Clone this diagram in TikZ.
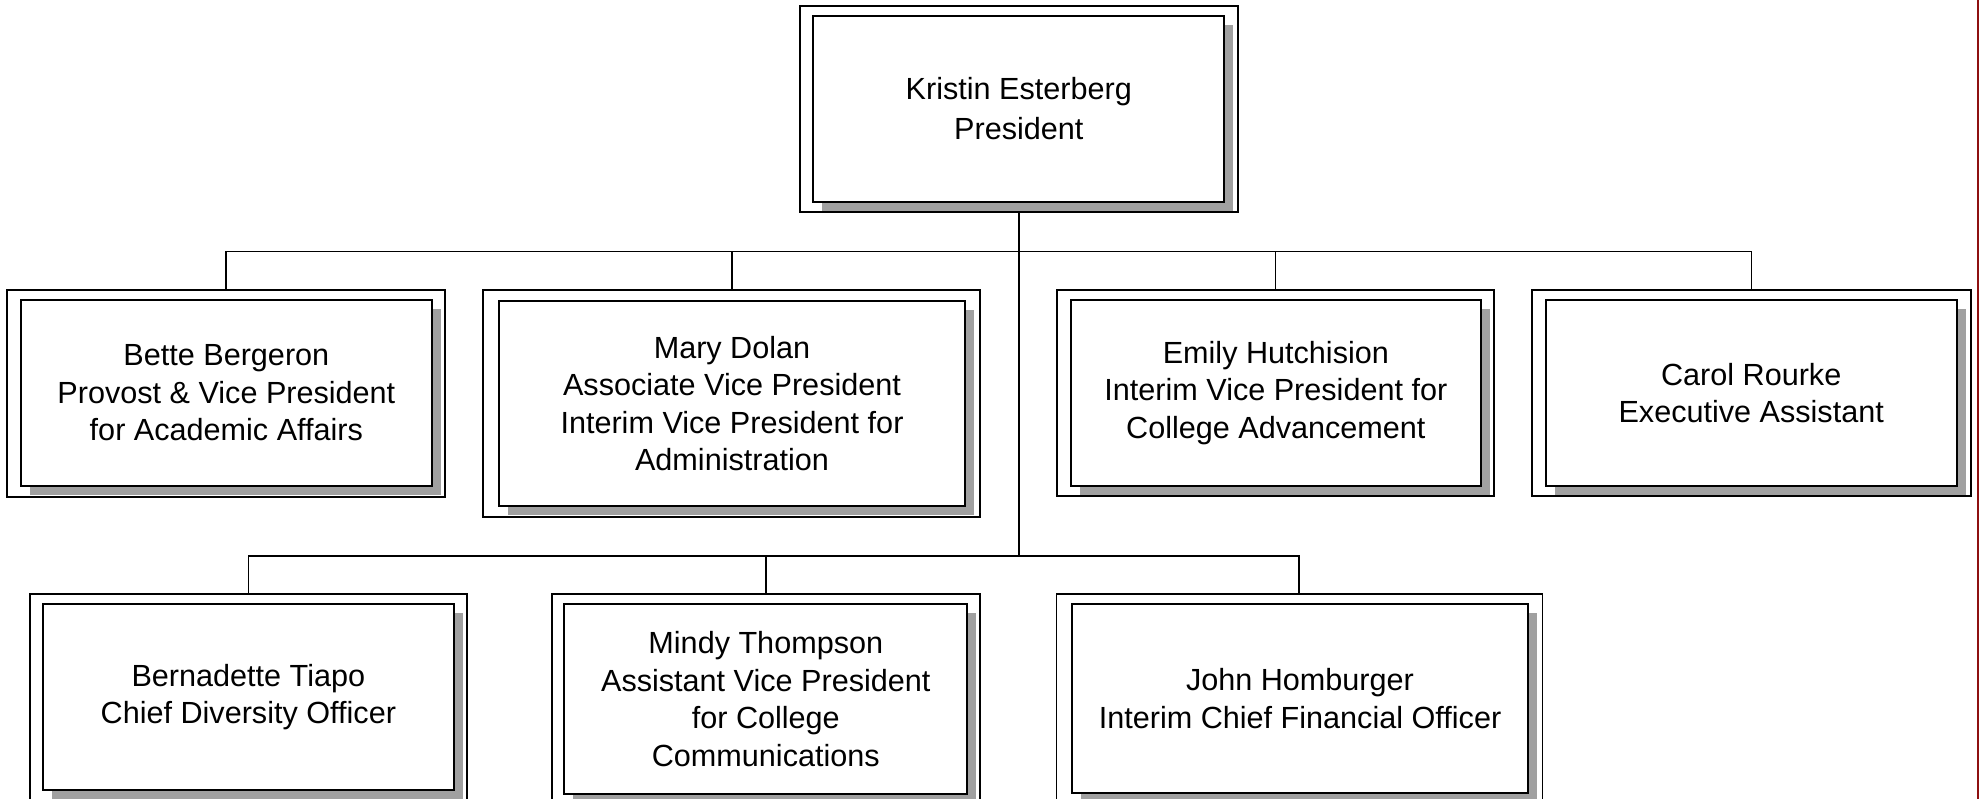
\documentclass[tikz,border=0pt]{standalone}
\usepackage{fontspec}
\setmainfont{Liberation Sans}
\usetikzlibrary{shadows}
\definecolor{shadowgray}{HTML}{A0A0A0}
\definecolor{edgered}{HTML}{8E1010}
\tikzset{
  outerbox/.style={draw=black, fill=white, line width=1.8pt, inner sep=0pt, outer sep=0pt, rectangle},
  innerbox/.style={draw=black, fill=white, line width=2pt, inner sep=0pt, outer sep=0pt, rectangle,
    align=center, font=\fontsize{30.6}{37.5}\selectfont,
    drop shadow={shadow xshift=9pt, shadow yshift=-9pt, opacity=1, fill=shadowgray, draw=none}},
  conn/.style={draw=black, line width=1.9pt},
  trunk/.style={draw=black, line width=2.6pt}
}
\begin{document}
\begin{tikzpicture}[x=1pt, y=-1pt]
\useasboundingbox (0,0) rectangle (1979,799);
\clip (0,0) rectangle (1979,799);
\fill[white] (0,0) rectangle (1979,799);

% top
\node[outerbox, minimum width=437.7pt, minimum height=206pt] (pres) at (1018.85,109) {};
\node[innerbox, minimum width=411pt, minimum height=186pt, font=\fontsize{30.6}{40}\selectfont] (presi) at (1018.8,109) {Kristin Esterberg\\President};

% row 1
\node[outerbox, minimum width=438pt, minimum height=206.7pt] (bette) at (226,393.35) {};
\node[innerbox, minimum width=411.3pt, minimum height=186pt] (bettei) at (226.35,393) {Bette Bergeron\\Provost \& Vice President\\for Academic Affairs};

\node[outerbox, minimum width=496.7pt, minimum height=226.7pt] (mary) at (731.65,403.35) {};
\node[innerbox, minimum width=466pt, minimum height=204.7pt] (maryi) at (732,403.35) {Mary Dolan\\Associate Vice President\\Interim Vice President for\\Administration};

\node[outerbox, minimum width=437.6pt, minimum height=206pt] (emily) at (1275.5,393) {};
\node[innerbox, minimum width=410.3pt, minimum height=186pt] (emilyi) at (1275.85,393) {Emily Hutchision\\Interim Vice President for\\College Advancement};

\node[outerbox, minimum width=439pt, minimum height=206pt] (carol) at (1751.5,393) {};
\node[innerbox, minimum width=411pt, minimum height=186pt] (caroli) at (1751.2,393) {Carol Rourke\\Executive Assistant};

% row 2
\node[outerbox, minimum width=437pt, minimum height=206pt] (bern) at (248.5,697) {};
\node[innerbox, minimum width=411.3pt, minimum height=185.7pt] (berni) at (248.35,697.15) {Bernadette Tiapo\\Chief Diversity Officer};

\node[outerbox, minimum width=428.3pt, minimum height=210pt] (mindy) at (765.85,699) {};
\node[innerbox, minimum width=403pt, minimum height=189.7pt] (mindyi) at (765.8,699.15) {Mindy Thompson\\Assistant Vice President\\for College\\Communications};

\node[outerbox, minimum width=486pt, minimum height=209pt] (john) at (1299.4,698.5) {};
\node[innerbox, minimum width=456pt, minimum height=188.4pt] (johni) at (1300,698.5) {John Homburger\\Interim Chief Financial Officer};

% bus coordinates
\coordinate (bus1) at (0,251.5);
\coordinate (bus2) at (0,555.7);

% connectors
\draw[conn] (bette.north) -- (bette.north |- bus1) -- (carol.north |- bus1) -- (carol.north);
\draw[conn] (mary.north) -- (mary.north |- bus1);
\draw[conn] (emily.north) -- (emily.north |- bus1);
\draw[conn] (bern.north) -- (bern.north |- bus2) -- (john.north |- bus2) -- (john.north);
\draw[conn] (mindy.north) -- (mindy.north |- bus2);
\draw[trunk] (pres.south) -- (pres.south |- bus2);

% right edge line
\draw[edgered, line width=2pt] (1977.5,0) -- (1977.5,799);
\end{tikzpicture}
\end{document}
